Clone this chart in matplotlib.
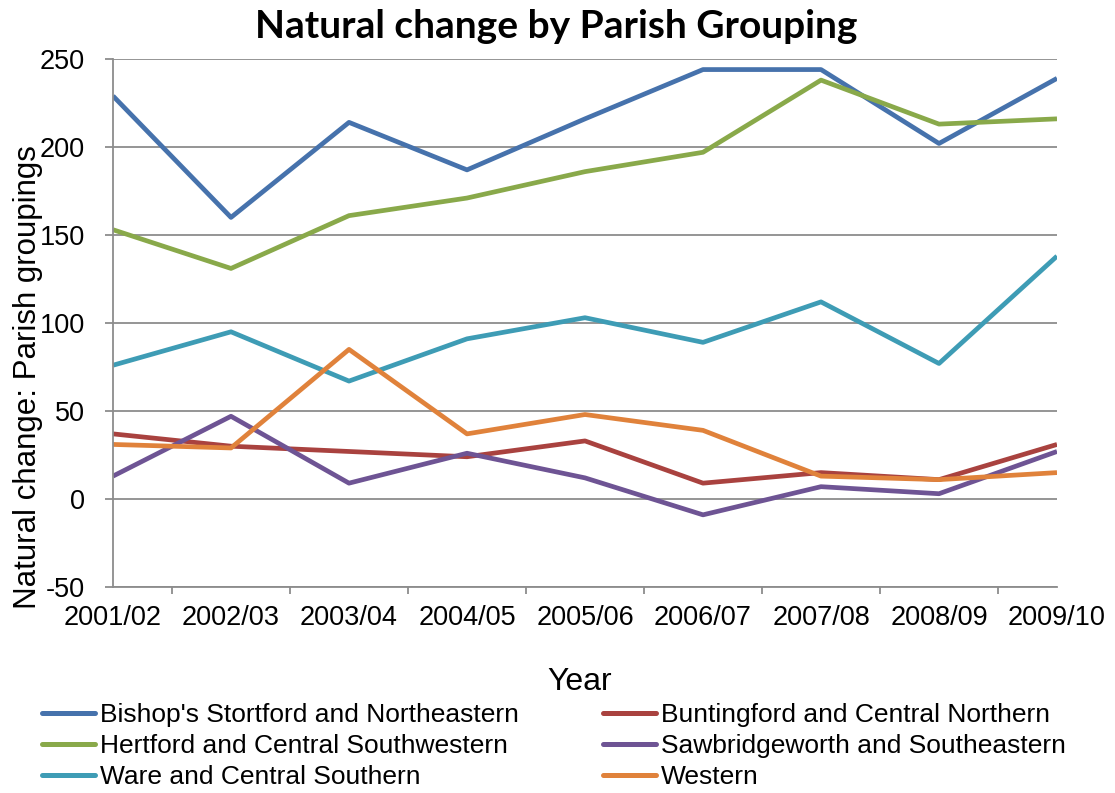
import numpy as np
import matplotlib
matplotlib.use("Agg")
import matplotlib.pyplot as plt
from matplotlib.ticker import FixedLocator
from matplotlib.lines import Line2D

# ---------------- data ----------------
years = ["2001/02", "2002/03", "2003/04", "2004/05", "2005/06",
         "2006/07", "2007/08", "2008/09", "2009/10"]

bishops = [229, 160, 214, 187, 216, 244, 244, 202, 239]
buntingford = [37, 30, 27, 24, 33, 9, 15, 11, 31]
hertford = [153, 131, 161, 171, 186, 197, 238, 213, 216]
sawbridge = [13, 47, 9, 26, 12, -9, 7, 3, 27]
ware = [76, 95, 67, 91, 103, 89, 112, 77, 138]
western = [31, 29, 85, 37, 48, 39, 13, 11, 15]

series_names = ["Bishop's Stortford and Northeastern", "Buntingford and Central Northern",
                "Hertford and Central Southwestern", "Sawbridgeworth and Southeastern",
                "Ware and Central Southern", "Western"]
series_vals = [bishops, buntingford, hertford, sawbridge, ware, western]
colors = ["#4672AC", "#A9423F", "#89A94A", "#6E5494", "#3E9CB5", "#E0823B"]

# ---------------- plot ----------------
plt.rcParams["font.family"] = ["Liberation Sans", "DejaVu Sans"]
plt.rcParams["axes.unicode_minus"] = False

fig = plt.figure(figsize=(11.15, 7.93), dpi=100)
ax = fig.add_axes([113 / 1115, 1 - 587 / 793, 944 / 1115, 528 / 793])

x = np.arange(len(years))
for name, vals, c in zip(series_names, series_vals, colors):
    ax.plot(x, vals, color=c, lw=3.4, label=name,
            solid_joinstyle="round", solid_capstyle="butt")

ax.set_xlim(0, len(years) - 1)
ax.set_ylim(-50, 250)
ax.set_yticks(np.arange(-50, 251, 50))
ax.yaxis.grid(True, color="#8c8c8c", lw=1.3)
ax.set_axisbelow(True)

# category labels on points, tick marks between categories
ax.set_xticks(x)
ax.set_xticklabels(years)
ax.xaxis.set_minor_locator(FixedLocator(x[:-1] + 0.5))
ax.tick_params(axis="x", which="major", length=0, pad=13, labelsize=19.5)
ax.tick_params(axis="x", which="minor", length=5, width=1.3, color="#8c8c8c", direction="out")
ax.tick_params(axis="y", length=6, width=1.3, color="#8c8c8c", labelsize=19.5, pad=14)

for s in ["top", "right"]:
    ax.spines[s].set_visible(False)
for s in ["left", "bottom"]:
    ax.spines[s].set_color("#8c8c8c")
    ax.spines[s].set_linewidth(1.3)

ax.set_ylabel("Natural change: Parish groupings", fontsize=22.5)
ax.yaxis.set_label_coords(-0.074, 0.398)
ax.set_xlabel("Year", fontsize=23)
ax.xaxis.set_label_coords(0.494, -0.152)

fig.text(556 / 1115, 1 - 27 / 793, "Natural change by Parish Grouping",
         fontsize=28, fontweight="bold", family=["Lato", "DejaVu Sans"],
         ha="center", va="center")

order = [0, 2, 4, 1, 3, 5]
handles = [Line2D([], [], color=colors[i], lw=3.6, solid_capstyle="round") for i in order]
fig.legend(handles, [series_names[i] for i in order],
           ncol=2, loc="upper left", bbox_to_anchor=(42 / 1115, 1 - 703 / 793),
           frameon=False, fontsize=19, handlelength=2.0, handletextpad=0.19,
           labelspacing=0.27, columnspacing=3.2, borderpad=0, borderaxespad=0)

fig.savefig("out.png", dpi=100)
